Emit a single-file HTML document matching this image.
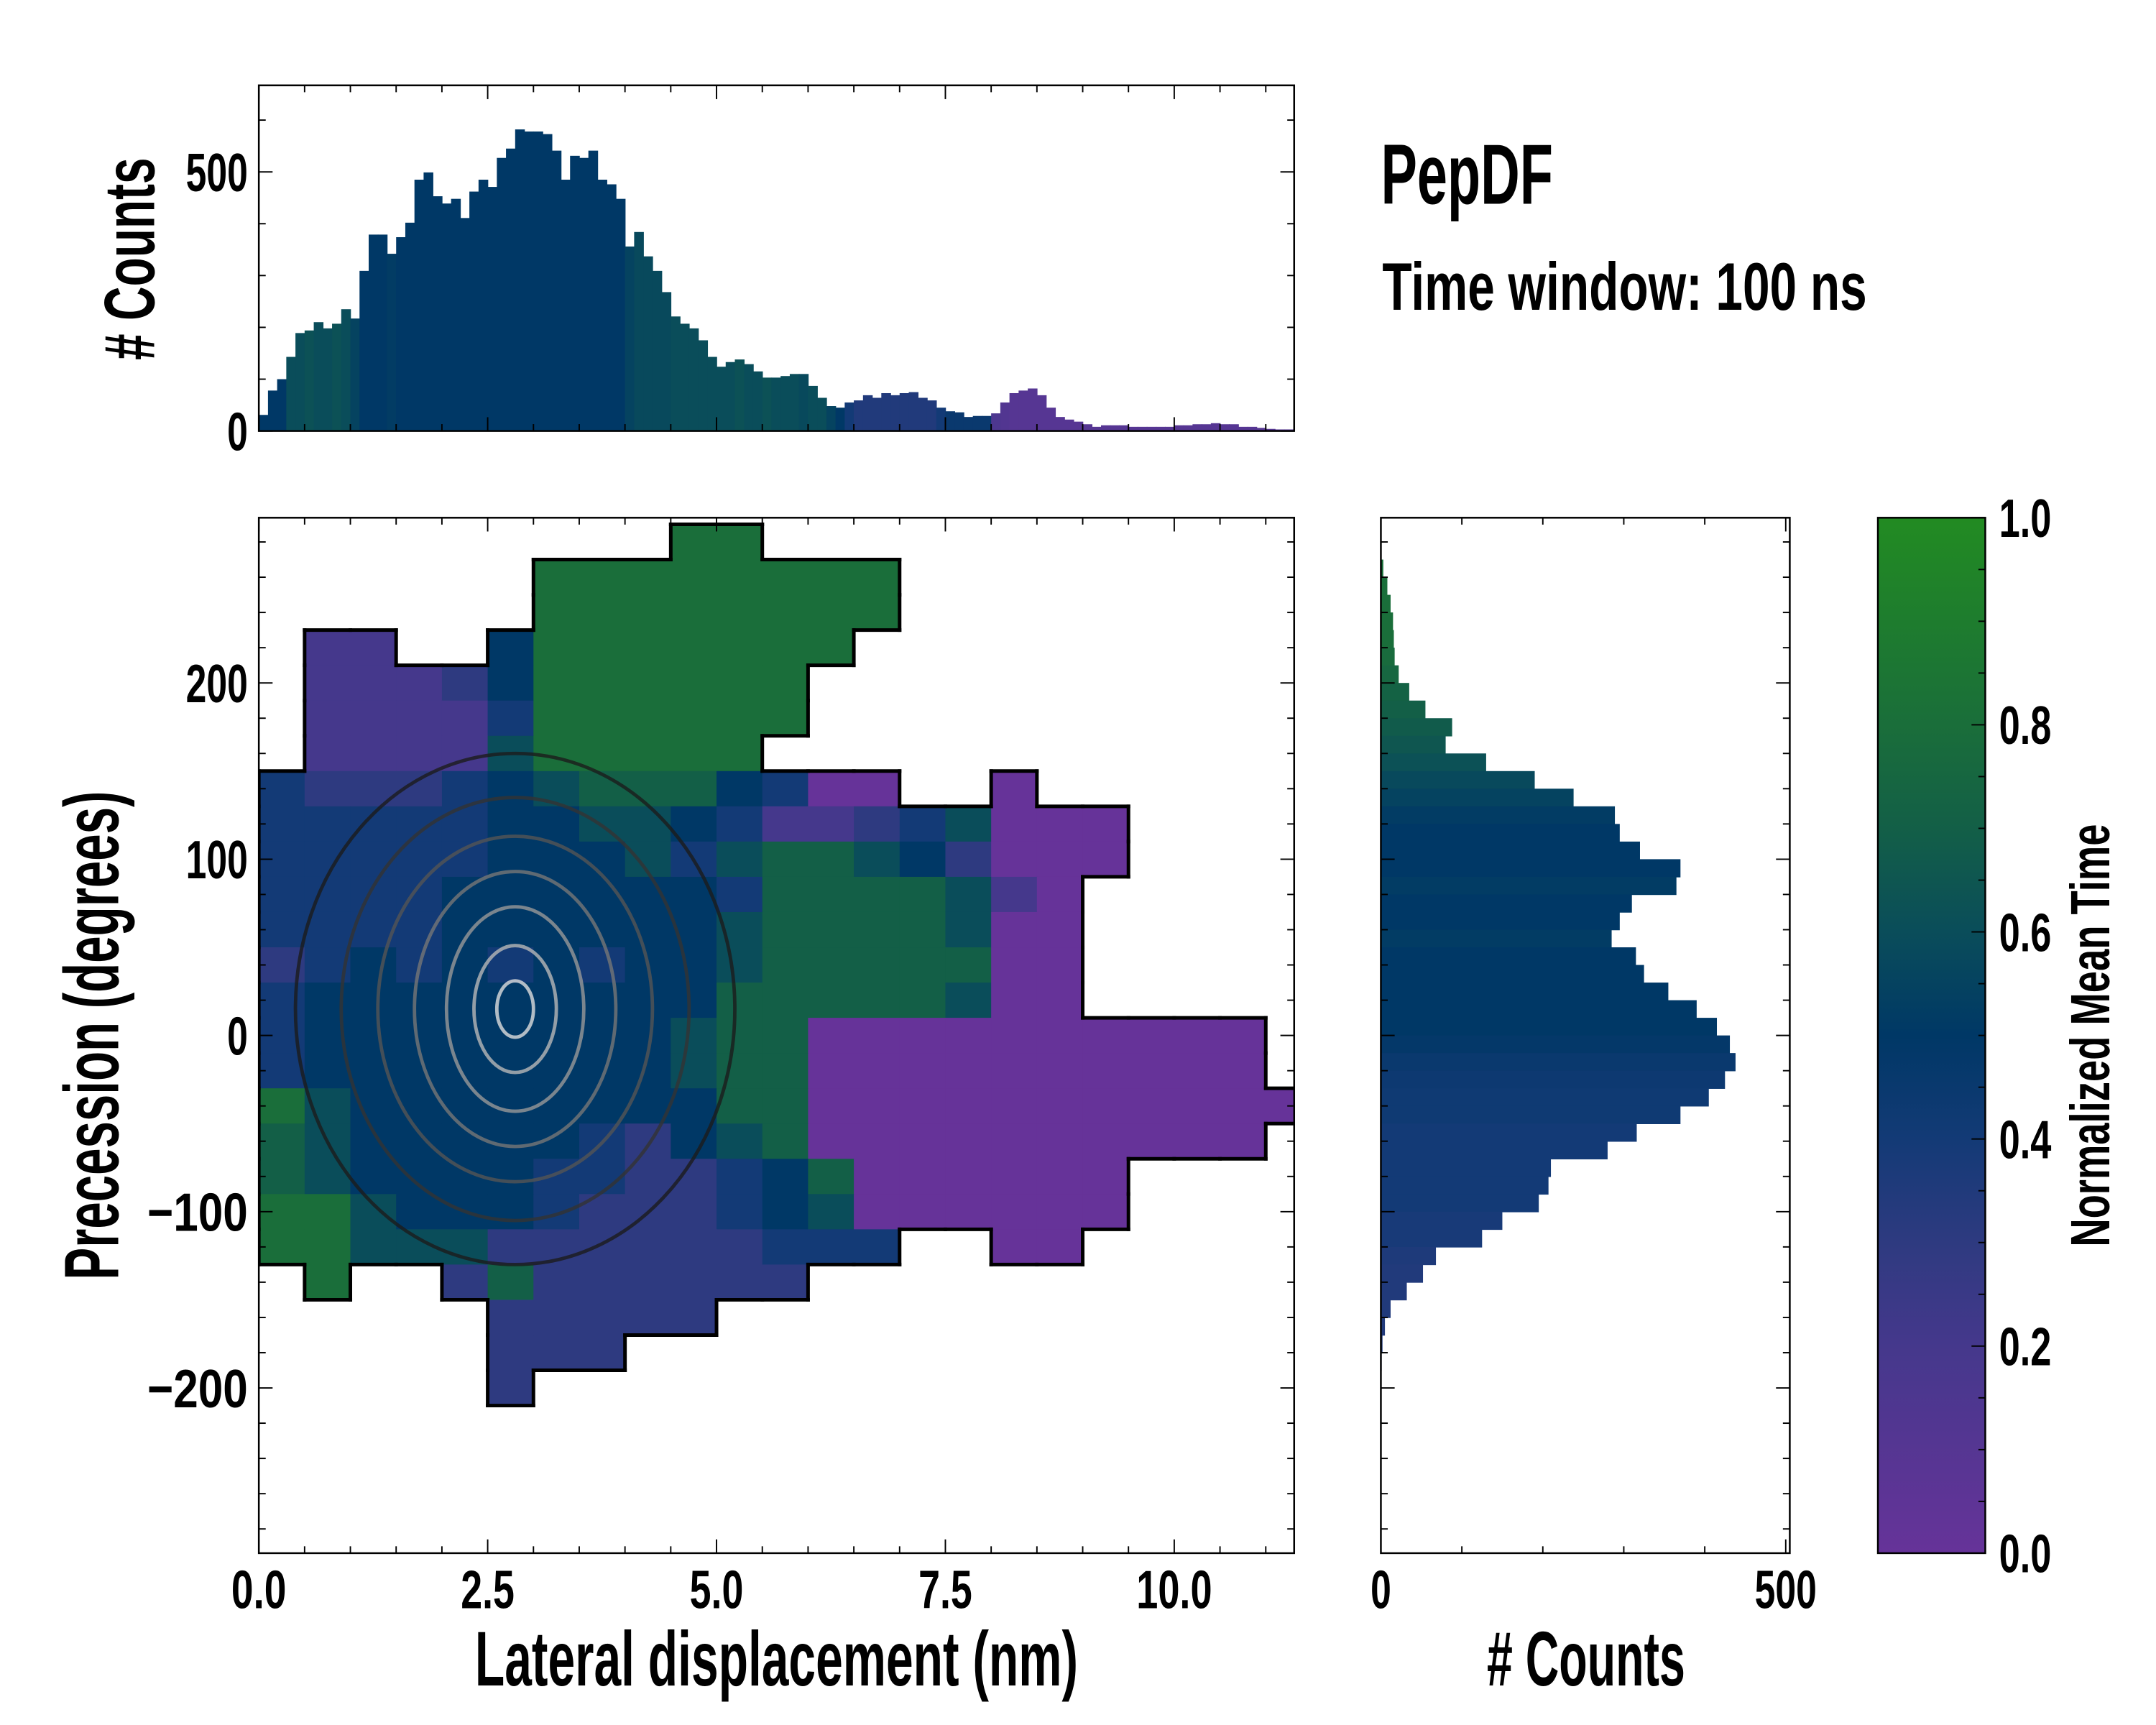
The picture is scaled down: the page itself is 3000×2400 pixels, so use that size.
<!DOCTYPE html>
<html><head><meta charset="utf-8">
<style>html,body{margin:0;padding:0;background:#fff;}svg{display:block;}</style>
</head><body>
<svg id="fig" xmlns="http://www.w3.org/2000/svg" width="3000" height="2400" viewBox="0 0 1566 1252.8"></svg>
<script>
// ---------- DATA ----------
const topBinStart = 0.0, topBinWidth = 0.1;
const topCounts = [31,78,100,143,189,194,210,198,207,235,217,309,379,379,342,374,402,485,499,453,439,448,411,462,485,471,527,545,582,578,578,573,541,485,531,527,541,485,476,448,356,384,337,309,268,221,207,198,175,143,124,133,138,129,115,103,103,106,110,110,87,64,48,45,55,59,69,64,73,69,73,75,64,59,45,38,36,27,29,29,34,55,73,78,82,69,45,27,22,18,13,8,11,11,11,8,8,8,8,8,11,11,13,13,15,13,13,8,8,6,4,3,3];
const topMeanTime = [0.5,0.5,0.5,0.6,0.6,0.62,0.6,0.6,0.62,0.6,0.55,0.5,0.5,0.5,0.52,0.5,0.5,0.5,0.5,0.5,0.5,0.5,0.5,0.5,0.5,0.5,0.5,0.5,0.5,0.5,0.5,0.5,0.5,0.5,0.5,0.5,0.5,0.5,0.5,0.5,0.55,0.58,0.58,0.58,0.58,0.6,0.6,0.6,0.6,0.6,0.6,0.6,0.62,0.6,0.6,0.62,0.6,0.6,0.6,0.58,0.6,0.6,0.55,0.5,0.4,0.35,0.35,0.35,0.35,0.35,0.35,0.35,0.35,0.35,0.4,0.45,0.45,0.45,0.45,0.45,0.15,0.12,0.1,0.1,0.1,0.1,0.1,0.1,0.1,0.1,0.1,0.1,0.1,0.1,0.1,0.1,0.1,0.1,0.1,0.1,0.1,0.1,0.1,0.1,0.1,0.1,0.1,0.1,0.1,0.1,0.1,0.1,0.1];

const rightBinCenters = [265,255,245,235,225,215,205,195,185,175,165,155,145,135,125,115,105,95,85,75,65,55,45,35,25,15,5,-5,-15,-25,-35,-45,-55,-65,-75,-85,-95,-105,-115,-125,-135,-145,-155,-165,-175,-185];
const rightCounts = [3,8,12,15,16,17,22,35,55,88,80,130,190,238,289,295,320,370,365,310,295,285,315,325,355,390,415,431,438,425,405,370,316,280,210,207,195,150,125,68,52,32,12,5,2,1];
const rightMeanTime = [0.8,0.8,0.8,0.8,0.8,0.78,0.75,0.72,0.7,0.68,0.65,0.62,0.58,0.55,0.52,0.5,0.5,0.5,0.52,0.5,0.5,0.52,0.5,0.5,0.5,0.5,0.5,0.48,0.45,0.43,0.42,0.42,0.4,0.4,0.4,0.4,0.4,0.38,0.38,0.36,0.35,0.35,0.35,0.35,0.35,0.35];

// heatmap: columns 0.5 nm wide starting at 0, rows 20 deg tall starting at top 290 deg; digit = mean time*10, '.' = empty
const heatX0 = 0, heatDX = 0.5, heatYTop = 290, heatDY = 20;
const heatRows = [
".........88............",
"......88888888.........",
"......88888888.........",
".22..58888888..........",
".22235888888...........",
".22224888888...........",
".2222688888............",
"43334567775400..0......",
"4444455665422346000....",
"4444455564677653000....",
"444455555547777620.....",
"444455555567777600.....",
"345454545567777700.....",
"455555555577777600.....",
"4555555556770000000000.",
"4555555556770000000000.",
"86555555557700000000000",
"7655555435670000000000.",
"7655554433457000000....",
"8865554333456000000....",
"88666333333444..00.....",
".8..37333333...........",
".....33333.............",
".....333...............",
".....3.................",
"......................."
];

// contour levels (density) approximated as ellipses around the density centre
const contourCenterX = 2.8, contourCenterY = 15;
const contourRx = [2.4, 1.9, 1.5, 1.1, 0.75, 0.45, 0.2];
const contourRy = [145, 120, 98, 78, 58, 36, 16];
const contourColors = ['#1c1c1c','#333333','#555555','#777777','#999999','#b8b8b8','#dddddd'];

const topYTicks = [0, 500];
const mainXTicks = [0, 2.5, 5, 7.5, 10];
const mainXTickLabels = ['0.0','2.5','5.0','7.5','10.0'];
const mainYTicks = [200, 100, 0, -100, -200];
const mainYTickLabels = ['200','100','0','\u2212100','\u2212200'];
const rightXTicks = [0, 500];
const cbarTicks = [0, 0.2, 0.4, 0.6, 0.8, 1.0];
const cbarTickLabels = ['0.0','0.2','0.4','0.6','0.8','1.0'];

// ---------- LAYOUT ----------
const NS = 'http://www.w3.org/2000/svg';
const svg = document.getElementById('fig');
const M = {l:188, r:940, t:376, b:1128, xmin:0, xmax:11.31, ymin:-293.75, ymax:293.75};
const T = {l:188, r:940, t:62, b:313, ymin:0, ymax:667};
const R = {l:1003, r:1300, t:376, b:1128, xmin:0, xmax:505};
const C = {l:1364, r:1442, t:376, b:1128};
const mx = v => M.l + (v - M.xmin) / (M.xmax - M.xmin) * (M.r - M.l);
const my = v => M.b - (v - M.ymin) / (M.ymax - M.ymin) * (M.b - M.t);
const ty = v => T.b - (v - T.ymin) / (T.ymax - T.ymin) * (T.b - T.t);
const rx = v => R.l + (v - R.xmin) / (R.xmax - R.xmin) * (R.r - R.l);
const cy = v => C.b - v * (C.b - C.t);

const stops = [[0,[102,51,153]],[0.2,[69,56,140]],[0.3,[46,58,128]],[0.4,[19,58,118]],[0.5,[0,56,102]],[0.6,[10,77,90]],[0.7,[19,95,71]],[0.8,[26,110,58]],[1,[34,139,34]]];
function cmap(v){
  v = Math.max(0, Math.min(1, v));
  for (let i = 1; i < stops.length; i++){
    if (v <= stops[i][0]){
      const a = stops[i-1], b = stops[i], f = (v - a[0]) / (b[0] - a[0]);
      const c = a[1].map((q,k)=>Math.round(q + (b[1][k]-q)*f));
      return 'rgb(' + c.join(',') + ')';
    }
  }
  return 'rgb(34,139,34)';
}
function el(tag, attrs, parent){
  const e = document.createElementNS(NS, tag);
  for (const k in attrs) e.setAttribute(k, attrs[k]);
  (parent || svg).appendChild(e);
  return e;
}
const FONT = '"Liberation Sans Narrow","Liberation Sans",sans-serif';
function txt(str, x, y, size, anchor, len, rot, parent){
  const a = {x:x, y:y, 'font-size':size, 'font-family':FONT, 'font-weight':'bold', 'text-anchor':anchor, fill:'#000'};
  if (len) { a.textLength = len; a.lengthAdjust = 'spacingAndGlyphs'; }
  if (rot) a.transform = 'rotate(' + rot + ' ' + x + ' ' + y + ')';
  const t = el('text', a, parent);
  t.textContent = str;
  return t;
}
function tick(x1,y1,x2,y2,parent){ return el('line',{x1:x1,y1:y1,x2:x2,y2:y2,stroke:'#000','stroke-width':1}, parent); }

// ---------- TOP HISTOGRAM ----------
const gTop = el('g', {});


topCounts.forEach((c, i) => {
  const x0 = mx(topBinStart + i*topBinWidth), x1 = mx(topBinStart + (i+1)*topBinWidth);
  const r = el('rect', {x:x0, y:ty(c), width:x1-x0+0.4, height:ty(0)-ty(c), fill:cmap(topMeanTime[i])}, gTop);
  
  
});
const topFrame = el('rect', {x:T.l, y:T.t, width:T.r-T.l, height:T.b-T.t, fill:'none', stroke:'#000', 'stroke-width':1.3}, gTop);


for (let v = 0; v <= 11.3; v += 0.5){
  const major = Math.abs(v/2.5 - Math.round(v/2.5)) < 1e-6;
  const L = major ? 10 : 5;
  tick(mx(v), T.b, mx(v), T.b-L, gTop); tick(mx(v), T.t, mx(v), T.t+L, gTop);
}
for (let v = 0; v <= 600; v += 100){
  const major = v % 500 === 0;
  const L = major ? 10 : 5;
  tick(T.l, ty(v), T.l+L, ty(v), gTop); tick(T.r, ty(v), T.r-L, ty(v), gTop);
}
topYTicks.forEach(v => {
  const t = txt(String(v), 180, ty(v)+14, 39, 'end', v===0?15:45, 0, gTop);
  
  
});
const topYTitle = txt('# Counts', 112, 188, 52, 'middle', 147, -90, gTop);



// ---------- TITLES ----------
const title = txt('PepDF', 1003, 148, 62, 'start', 125, 0);


const subtitle = txt('Time window: 100 ns', 1004, 225, 49, 'start', 352, 0);



// ---------- MAIN HEATMAP ----------
const gMain = el('g', {});


const clip = el('clipPath', {id:'mainclip'});
el('rect', {x:M.l, y:M.t, width:M.r-M.l, height:M.b-M.t}, clip);
const gCells = el('g', {'clip-path':'url(#mainclip)'}, gMain);
heatRows.forEach((row, ri) => {
  for (let ci = 0; ci < row.length; ci++){
    const ch = row[ci];
    if (ch === '.') continue;
    const v = parseInt(ch, 10) / 10;
    const x0 = mx(heatX0 + ci*heatDX), x1 = mx(heatX0 + (ci+1)*heatDX);
    const y0 = my(heatYTop - ri*heatDY), y1 = my(heatYTop - (ri+1)*heatDY);
    const r = el('rect', {x:x0, y:y0, width:x1-x0+0.3, height:y1-y0+0.3, fill:cmap(v)}, gCells);
    
    
  }
});
contourRx.forEach((rr, i) => {
  const e = el('ellipse', {cx:mx(contourCenterX), cy:my(contourCenterY), rx:mx(contourCenterX+rr)-mx(contourCenterX), ry:my(contourCenterY)-my(contourCenterY+contourRy[i]), fill:'none', stroke:contourColors[i], 'stroke-width':2.5, 'stroke-opacity':0.8}, gCells);
  
  
});
// outer boundary contour of occupied region (derived from heatRows)
function filled(ri, ci){
  if (ri < 0 || ri >= heatRows.length) return false;
  const row = heatRows[ri];
  if (ci < 0 || ci >= row.length) return false;
  return row[ci] !== '.';
}
const gEdge = el('g', {'clip-path':'url(#mainclip)', stroke:'#000', 'stroke-width':2.6, 'stroke-linecap':'square'}, gMain);


heatRows.forEach((row, ri) => {
  for (let ci = 0; ci < row.length; ci++){
    if (!filled(ri, ci)) continue;
    const x0 = mx(heatX0 + ci*heatDX), x1 = mx(heatX0 + (ci+1)*heatDX);
    const y0 = my(heatYTop - ri*heatDY), y1 = my(heatYTop - (ri+1)*heatDY);
    if (!filled(ri-1, ci)) el('line', {x1:x0, y1:y0, x2:x1, y2:y0}, gEdge);
    if (!filled(ri+1, ci)) el('line', {x1:x0, y1:y1, x2:x1, y2:y1}, gEdge);
    if (!filled(ri, ci-1)) el('line', {x1:x0, y1:y0, x2:x0, y2:y1}, gEdge);
    if (!filled(ri, ci+1)) el('line', {x1:x1, y1:y0, x2:x1, y2:y1}, gEdge);
  }
});
const mainFrame = el('rect', {x:M.l, y:M.t, width:M.r-M.l, height:M.b-M.t, fill:'none', stroke:'#000', 'stroke-width':1.3}, gMain);


for (let v = 0; v <= 11.3; v += 0.5){
  const major = Math.abs(v/2.5 - Math.round(v/2.5)) < 1e-6;
  const L = major ? 10 : 5;
  tick(mx(v), M.b, mx(v), M.b-L, gMain); tick(mx(v), M.t, mx(v), M.t+L, gMain);
}
for (let v = -280; v <= 280; v += 20){
  const major = v % 100 === 0;
  const L = major ? 10 : 5;
  tick(M.l, my(v), M.l+L, my(v), gMain); tick(M.r, my(v), M.r-L, my(v), gMain);
}
const xlw = [40,39,39,39,55];
mainXTicks.forEach((v, i) => {
  const t = txt(mainXTickLabels[i], mx(v), 1168, 39, 'middle', xlw[i], 0, gMain);
  
  
});
const ylw = [45,45,15,73,73];
mainYTicks.forEach((v, i) => {
  const t = txt(mainYTickLabels[i], 180, my(v)+14, 39, 'end', ylw[i], 0, gMain);
  
  
});
const xTitle = txt('Lateral displacement (nm)', 564, 1224, 56, 'middle', 438, 0, gMain);


const yTitle = txt('Precession (degrees)', 86, 752, 56, 'middle', 355, -90, gMain);



// ---------- RIGHT HISTOGRAM ----------
const gRight = el('g', {});


rightCounts.forEach((c, i) => {
  const y0 = my(rightBinCenters[i] + 5), y1 = my(rightBinCenters[i] - 5);
  const r = el('rect', {x:R.l, y:y0, width:rx(c)-R.l, height:y1-y0+0.4, fill:cmap(rightMeanTime[i])}, gRight);
  
  
});
const rightFrame = el('rect', {x:R.l, y:R.t, width:R.r-R.l, height:R.b-R.t, fill:'none', stroke:'#000', 'stroke-width':1.3}, gRight);


for (let v = 0; v <= 500; v += 100){
  const major = v % 500 === 0;
  const L = major ? 10 : 5;
  tick(rx(v), R.b, rx(v), R.b-L, gRight); tick(rx(v), R.t, rx(v), R.t+L, gRight);
}
for (let v = -280; v <= 280; v += 20){
  const major = v % 100 === 0;
  const L = major ? 10 : 5;
  tick(R.l, my(v), R.l+L, my(v), gRight); tick(R.r, my(v), R.r-L, my(v), gRight);
}
rightXTicks.forEach(v => {
  const t = txt(String(v), rx(v), 1168, 39, 'middle', v===0?15:45, 0, gRight);
  
  
});
const rTitle = txt('# Counts', 1152, 1224, 56, 'middle', 144, 0, gRight);



// ---------- COLORBAR ----------
const gC = el('g', {});


const defs = el('defs', {});
const grad = el('linearGradient', {id:'cbgrad', x1:0, y1:1, x2:0, y2:0}, defs);
stops.forEach(s => el('stop', {offset:s[0], 'stop-color':'rgb(' + s[1].join(',') + ')'}, grad));
const cbar = el('rect', {x:C.l, y:C.t, width:C.r-C.l, height:C.b-C.t, fill:'url(#cbgrad)', stroke:'#000', 'stroke-width':1.3}, gC);


for (let k = 0; k <= 20; k++){
  const v = k/20;
  const major = k % 4 === 0;
  tick(C.r, cy(v), C.r-(major?10:5), cy(v), gC);
}
cbarTicks.forEach((v, i) => {
  const t = txt(cbarTickLabels[i], 1452, cy(v)+14, 39, 'start', 38, 0, gC);
  
  
});
const cTitle = txt('Normalized Mean Time', 1532, 752, 40, 'middle', 307, -90, gC);


</script>
</body></html>
